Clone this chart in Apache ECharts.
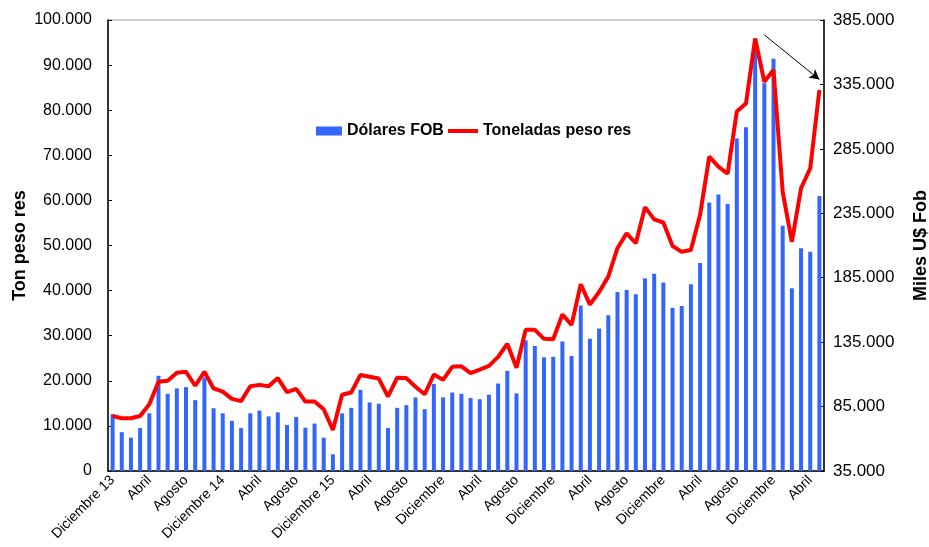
<!DOCTYPE html>
<html>
<head>
<meta charset="utf-8">
<script src="https://cdn.jsdelivr.net/npm/echarts@6/dist/echarts.min.js"></script>
<style>
  html, body { margin: 0; padding: 0; background: #fff; }
  #main { width: 929px; height: 547px; }
</style>
</head>
<body>
<div id="main"></div>
<script>
// meses, dic-13 a may-20
const meses = [
  'Diciembre 13', 'Enero', 'Febrero', 'Marzo', 'Abril', 'Mayo', 'Junio', 'Julio', 'Agosto', 'Septiembre', 'Octubre', 'Noviembre',
  'Diciembre 14', 'Enero', 'Febrero', 'Marzo', 'Abril', 'Mayo', 'Junio', 'Julio', 'Agosto', 'Septiembre', 'Octubre', 'Noviembre',
  'Diciembre 15', 'Enero', 'Febrero', 'Marzo', 'Abril', 'Mayo', 'Junio', 'Julio', 'Agosto', 'Septiembre', 'Octubre', 'Noviembre',
  'Diciembre', 'Enero', 'Febrero', 'Marzo', 'Abril', 'Mayo', 'Junio', 'Julio', 'Agosto', 'Septiembre', 'Octubre', 'Noviembre',
  'Diciembre', 'Enero', 'Febrero', 'Marzo', 'Abril', 'Mayo', 'Junio', 'Julio', 'Agosto', 'Septiembre', 'Octubre', 'Noviembre',
  'Diciembre', 'Enero', 'Febrero', 'Marzo', 'Abril', 'Mayo', 'Junio', 'Julio', 'Agosto', 'Septiembre', 'Octubre', 'Noviembre',
  'Diciembre', 'Enero', 'Febrero', 'Marzo', 'Abril', 'Mayo'
]

// Dólares FOB (miles U$)
const dolaresFob = [
  79100, 65100, 60900, 68300, 79800, 108900, 94900, 99100, 100100, 90000, 107500, 83700,
  79800, 73900, 68300, 79800, 81900, 77400, 80500, 70700, 77000, 68600, 71800, 60900,
  48000, 79800, 84000, 98000, 88200, 87200, 68300, 84000, 86100, 92100, 83000, 102600,
  92100, 95900, 94900, 91700, 90700, 94200, 102900, 112700, 95200, 136500, 132000, 123200,
  123600, 135500, 124300, 163500, 137600, 145600, 155800, 174000, 175400, 172200, 184500, 188000,
  181300, 161700, 163100, 179900, 196400, 243300, 249600, 242200, 293000, 301700, 363000, 336000,
  354900, 225400, 176800, 207900, 205100, 248500
]

// Toneladas peso res
const toneladas = [
  12200, 11700, 11700, 12200, 14800, 19800, 20000, 21800, 22000, 18900, 22000, 18300,
  17600, 16000, 15500, 18800, 19100, 18800, 20600, 17500, 18200, 15400, 15400, 13700,
  9100, 16900, 17400, 21300, 20900, 20500, 16500, 20700, 20600, 18700, 17000, 21400,
  20200, 23100, 23200, 21700, 22500, 23300, 25300, 28200, 22900, 31300, 31300, 29300,
  29200, 34700, 32400, 41400, 36900, 39700, 43100, 49400, 52700, 50500, 58500, 55800,
  55100, 49900, 48600, 49000, 56800, 69700, 67500, 65900, 79700, 81500, 95900, 86300,
  88900, 61900, 50800, 62700, 67100, 84500
]

const fmt = (v) => v === 0 ? '0' : v.toLocaleString('de-DE')
const legendText = { fontSize: 16, fontWeight: 'bold', color: '#000' }

let myChart = echarts.init(document.getElementById('main'))
let option = {
  animation: false,
  textStyle: { fontFamily: 'Liberation Sans, Arial, sans-serif', color: '#000' },
  grid: {
    left: 108, right: 105, top: 20, bottom: 76,
    outerBoundsMode: 'none',
    show: true, borderColor: '#9a9a9a', borderWidth: 1
  },
  legend: [
    {
      left: 311, top: 118,
      itemWidth: 26, itemHeight: 9,
      textStyle: legendText,
      data: [{ name: 'Dólares FOB', icon: 'rect' }]
    },
    {
      left: 443, top: 118,
      itemWidth: 30, itemHeight: 4,
      textStyle: legendText,
      data: [{ name: 'Toneladas peso res', icon: 'rect' }]
    }
  ],
  xAxis: {
    type: 'category',
    data: meses,
    axisLine: { lineStyle: { color: '#000', width: 1.5 } },
    axisTick: { inside: true, length: 4, interval: 0, lineStyle: { color: '#000' } },
    axisLabel: { interval: 3, rotate: 45, fontSize: 14, color: '#000', margin: 7 }
  },
  yAxis: [
    {
      type: 'value',
      min: 0, max: 100000, interval: 10000,
      name: 'Ton peso res',
      nameLocation: 'middle', nameRotate: 90, nameGap: 79,
      nameMoveOverlap: false,
      nameTextStyle: { fontSize: 18, fontWeight: 'bold', color: '#000' },
      axisLine: { show: true, lineStyle: { color: '#000', width: 1.5 } },
      axisTick: { show: true, inside: true, length: 4, lineStyle: { color: '#000' } },
      axisLabel: { fontSize: 16, color: '#000', margin: 16, formatter: fmt },
      splitLine: { show: false }
    },
    {
      type: 'value',
      min: 35000, max: 385000, interval: 50000,
      name: 'Miles U$ Fob',
      nameLocation: 'middle', nameRotate: 90, nameGap: 88,
      nameTextStyle: { fontSize: 18, fontWeight: 'bold', color: '#000' },
      axisLine: { show: true, lineStyle: { color: '#000', width: 1.5 } },
      axisTick: { show: true, inside: true, length: 4, lineStyle: { color: '#000' } },
      axisLabel: { fontSize: 17, color: '#000', margin: 9, formatter: fmt },
      splitLine: { show: false }
    }
  ],
  series: [
    {
      name: 'Dólares FOB',
      type: 'bar',
      yAxisIndex: 1,
      data: dolaresFob,
      barWidth: 4,
      itemStyle: { color: '#3366ff' }
    },
    {
      name: 'Toneladas peso res',
      type: 'line',
      yAxisIndex: 0,
      data: toneladas,
      symbol: 'none',
      lineStyle: { color: '#ff0000', width: 4 },
      itemStyle: { color: '#ff0000' },
      z: 3,
      markLine: {
        silent: true,
        symbol: ['none', 'arrow'],
        symbolSize: [8, 10],
        label: { show: false },
        lineStyle: { color: '#000', width: 1, type: 'solid' },
        data: [[{ coord: [71, 96700] }, { coord: [77, 86800] }]]
      }
    }
  ]
}
myChart.setOption(option)
</script>
</body>
</html>
